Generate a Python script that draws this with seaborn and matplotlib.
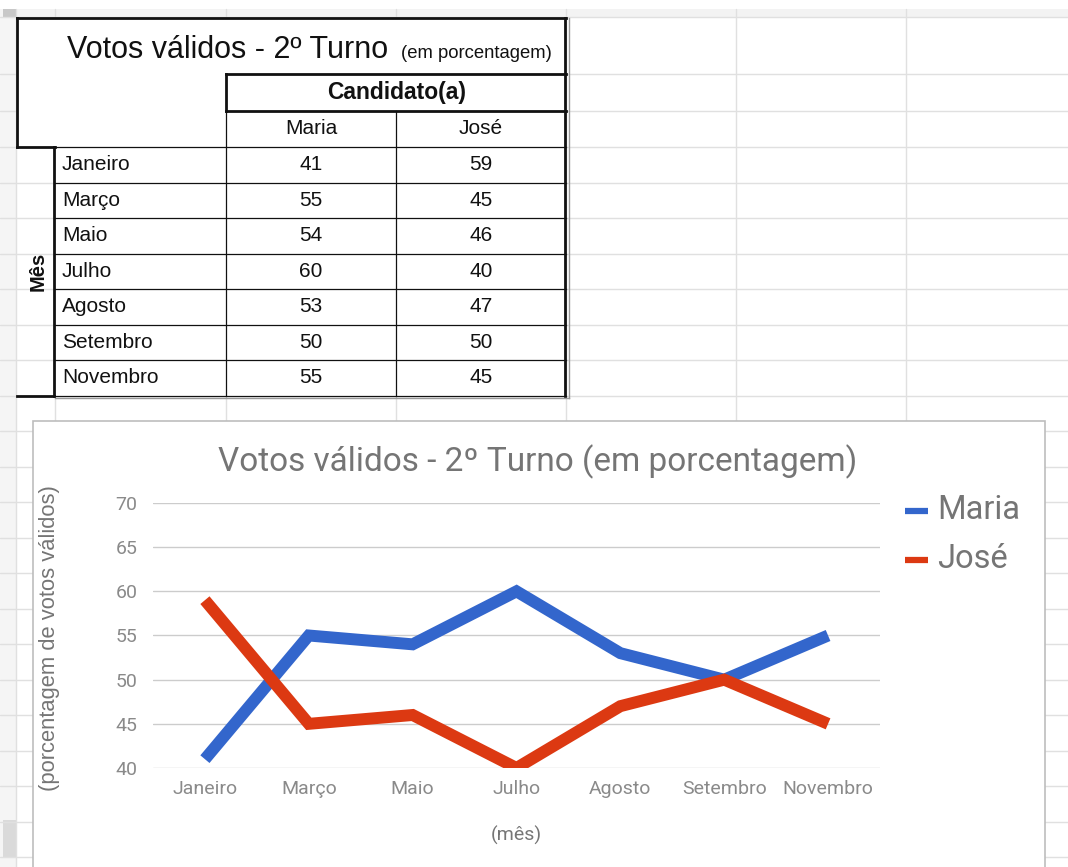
import numpy as np
import pandas as pd
import matplotlib
matplotlib.use('Agg')
import matplotlib.pyplot as plt
import seaborn as sns
from matplotlib.patches import Rectangle

# dados da planilha
meses = ['Janeiro', 'Março', 'Maio', 'Julho', 'Agosto', 'Setembro', 'Novembro']
maria = [41, 55, 54, 60, 53, 50, 55]
jose = [59, 45, 46, 40, 47, 50, 45]
candidatos = ['Maria', 'José']
cores = ['#3366CC', '#DC3912']
y_ticks = [40, 45, 50, 55, 60, 65, 70]

W, H = 1068, 867
sns.set_theme(style='white')
plt.rcParams['font.family'] = ['Liberation Sans', 'DejaVu Sans']
ROBOTO = ['Roboto', 'DejaVu Sans']
CINZA = '#757575'

fig = plt.figure(figsize=(W / 100, H / 100), dpi=100)
fig.patch.set_facecolor('white')

# fundo: grade da planilha, em pixels
bg = fig.add_axes([0, 0, 1, 1])
bg.set_xlim(0, W)
bg.set_ylim(H, 0)
bg.axis('off')

grade = '#e0e0e0'
bg.add_patch(Rectangle((0, 9), W, 8, facecolor='#f3f3f3', edgecolor='none'))
bg.add_patch(Rectangle((0, 9), 16, H, facecolor='#f5f5f5', edgecolor='none'))
bg.add_patch(Rectangle((3, 9), 13, 8, facecolor='#c8c8c8', edgecolor='none'))
bg.add_patch(Rectangle((3, 820), 13, 37, facecolor='#dadada', edgecolor='none'))

linhas = [17, 74, 111] + list(np.arange(147, H, 35.5))
for y in linhas:
    bg.plot([0, W], [y, y], color=grade, lw=1, zorder=1)
for x in [16, 55, 226, 396, 566, 736, 906]:
    bg.plot([x, x], [9, H], color=grade, lw=1, zorder=1)

# tabela
preto = '#111111'
grosso, fino = 2.0, 0.9
limites = [147 + 35.5 * i for i in range(len(meses) + 1)]

bg.add_patch(Rectangle((17, 18), 549, 56, facecolor='white', edgecolor='none', zorder=2))
bg.add_patch(Rectangle((55, 74), 511, 322, facecolor='white', edgecolor='none', zorder=2))
bg.add_patch(Rectangle((17, 74), 38, 73, facecolor='white', edgecolor='none', zorder=2))

def seg(x0, x1, y0, y1, lw, cor=preto):
    bg.plot([x0, x1], [y0, y1], color=cor, lw=lw, zorder=3, solid_capstyle='projecting')

seg(17, 566, 18, 18, grosso)
seg(17, 17, 18, 147, grosso)
seg(17, 55, 147, 147, grosso)
seg(54, 54, 147, 396, grosso)
seg(17, 54, 396, 396, grosso)
seg(226, 566, 74, 74, grosso)
seg(226, 566, 111, 111, grosso)
seg(226, 226, 74, 111, grosso)
seg(565, 565, 18, 396, grosso)
seg(569, 569, 18, 398, 1.0, '#9a9a9a')
seg(55, 566, 396, 396, fino)
seg(55, 569, 398, 398, 1.0, '#9a9a9a')
seg(226, 226, 111, 396, fino)
seg(396, 396, 111, 396, fino)
for y in limites[:-1]:
    seg(55, 566, y, y, fino)

bg.text(67, 58, 'Votos válidos - 2º Turno', fontsize=22, color=preto,
        ha='left', va='baseline', zorder=4)
bg.text(401, 58, '(em porcentagem)', fontsize=13.3, color=preto,
        ha='left', va='baseline', zorder=4)
bg.text(397, 92.5, 'Candidato(a)', fontsize=16.5, fontweight='bold', color=preto,
        ha='center', va='center', zorder=4)
bg.text(311, 129, candidatos[0], fontsize=15, color=preto, ha='center', va='center', zorder=4)
bg.text(481, 129, candidatos[1], fontsize=15, color=preto, ha='center', va='center', zorder=4)
bg.text(38, 271, 'Mês', fontsize=14.5, fontweight='bold', rotation=90, color=preto,
        ha='center', va='center', zorder=4)
for i, mes in enumerate(meses):
    yc = (limites[i] + limites[i + 1]) / 2
    bg.text(62, yc, mes, fontsize=15, color=preto, ha='left', va='center', zorder=4)
    bg.text(311, yc, str(maria[i]), fontsize=15, color=preto, ha='center', va='center', zorder=4)
    bg.text(481, yc, str(jose[i]), fontsize=15, color=preto, ha='center', va='center', zorder=4)

# caixa do gráfico
bg.add_patch(Rectangle((33, 421), 1012, 460, facecolor='white', edgecolor='#bdbdbd',
                       lw=1.2, zorder=5))
bg.text(538, 462, 'Votos válidos - 2º Turno (em porcentagem)', fontsize=24,
        family=ROBOTO, color=CINZA, ha='center', va='center', zorder=6)

# legenda
for i, (nome, cor) in enumerate(zip(candidatos, cores)):
    yl = 511 + 49 * i
    bg.plot([905, 928], [yl, yl], color=cor, lw=4.5, solid_capstyle='butt', zorder=6)
    bg.text(937, yl - 1, nome, fontsize=23.5, family=ROBOTO, color=CINZA,
            ha='left', va='center', zorder=6)

# gráfico de linhas
df = pd.DataFrame({
    'mes': meses * 2,
    'valor': maria + jose,
    'candidato': [candidatos[0]] * len(meses) + [candidatos[1]] * len(meses),
})

x0, x1, yt, yb = 153, 880, 503, 768
ax = fig.add_axes([x0 / W, 1 - yb / H, (x1 - x0) / W, (yb - yt) / H])
ax.set_facecolor('none')
ax.set_yticks(y_ticks)
ax.yaxis.grid(True, color='#cccccc', lw=1)
ax.set_axisbelow(True)
sns.lineplot(data=df, x='mes', y='valor', hue='candidato', palette=cores,
             linewidth=8.6, sort=False, legend=False, ax=ax,
             solid_capstyle='butt', solid_joinstyle='miter')
ax.set_xlim(-0.5, len(meses) - 0.5)
ax.set_ylim(40, 70)
for s in ax.spines.values():
    s.set_visible(False)
ax.tick_params(axis='both', length=0, labelcolor='#8a8a8a', labelsize=14)
ax.tick_params(axis='y', pad=11)
ax.tick_params(axis='x', pad=9)
for lab in ax.get_xticklabels() + ax.get_yticklabels():
    lab.set_family(ROBOTO)

ax.set_xlabel('(mês)', fontsize=14, family=ROBOTO, color=CINZA)
ax.xaxis.set_label_coords(0.5, -(826 - yb) / (yb - yt))
ax.set_ylabel('(porcentagem de votos válidos)', fontsize=15.8, color=CINZA)
ax.yaxis.set_label_coords(-(153 - 60) / (x1 - x0), (yb - 638) / (yb - yt))

fig.savefig('out.png', dpi=100)
